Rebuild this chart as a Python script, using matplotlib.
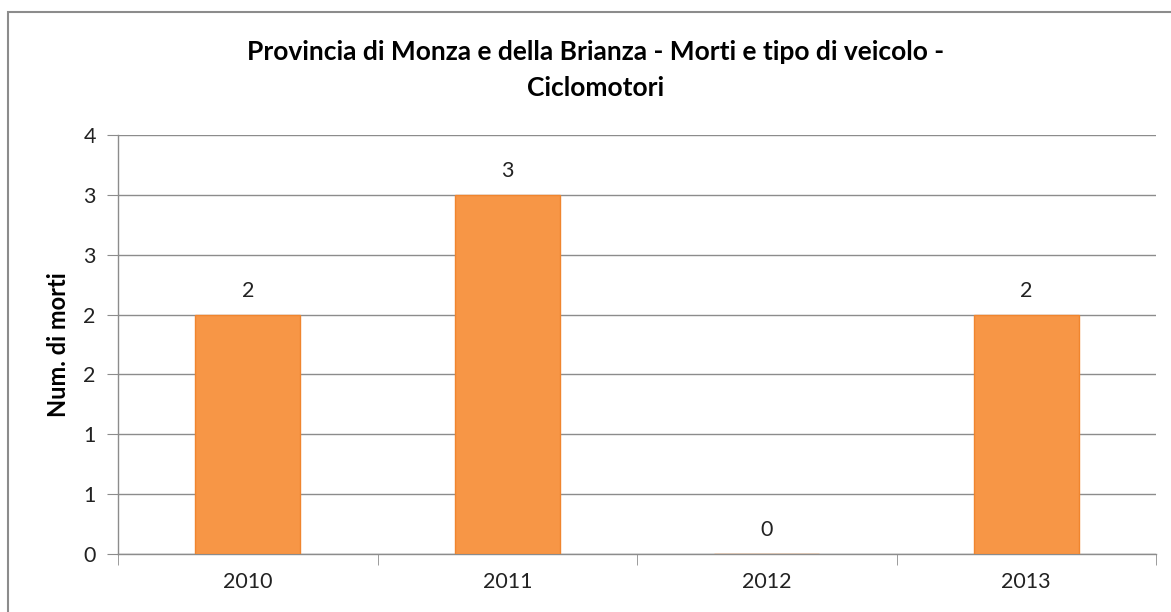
import matplotlib

matplotlib.use("Agg")
import matplotlib.pyplot as plt
from matplotlib.patches import Rectangle

years = ["2010", "2011", "2012", "2013"]
deaths = [2, 3, 0, 2]
ytick_vals = [0, 0.5, 1, 1.5, 2, 2.5, 3, 3.5]
ytick_labels = ["0", "1", "1", "2", "2", "3", "3", "4"]

plt.rcParams["font.family"] = ["Lato", "DejaVu Sans"]

fig = plt.figure(figsize=(11.71, 6.12), dpi=100)
ax = fig.add_axes([118 / 1171, 58 / 612, 1038 / 1171, 419 / 612])

# outer chart frame (runs off the right/bottom edge as in the screenshot)
fig.patches.append(Rectangle((8 / 1171, -0.1), 1.2, (612 - 12) / 612 + 0.1,
                             transform=fig.transFigure, fill=False,
                             edgecolor="#8c8c8c", linewidth=1.5))

x = list(range(len(years)))
ax.bar(x, deaths, width=0.405, color="#F79646", edgecolor="#F0852E",
       linewidth=1, zorder=3)
for xi, v in zip(x, deaths):
    ax.annotate(str(v), (xi, v), xytext=(0, 17), textcoords="offset points",
                ha="center", va="center", fontsize=15.5, color="#222222")

ax.set_xlim(-0.5, len(years) - 0.5)
ax.set_ylim(0, 3.5)
ax.set_yticks(ytick_vals)
ax.set_yticklabels(ytick_labels)
ax.set_xticks(x)
ax.set_xticklabels(years)
ax.set_xticks([i - 0.5 for i in range(len(years) + 1)], minor=True)

ax.grid(axis="y", color="#8c8c8c", linewidth=1, zorder=0)
ax.set_axisbelow(True)
for side in ["top", "right"]:
    ax.spines[side].set_visible(False)
for side in ["left", "bottom"]:
    ax.spines[side].set_color("#8c8c8c")
    ax.spines[side].set_linewidth(1)

ax.tick_params(axis="y", length=8, color="#8c8c8c", labelsize=15.5,
               labelcolor="#222222", pad=8)
ax.tick_params(axis="x", which="major", length=0, labelsize=15.5,
               labelcolor="#222222", pad=13)
ax.tick_params(axis="x", which="minor", length=8, color="#8c8c8c")

ax.set_ylabel("Num. di morti", fontsize=17, fontweight="bold")
ax.yaxis.set_label_coords((70 - 118) / 1038, 0.5)

fig.text(596 / 1171, 1 - 52 / 612,
         "Provincia di Monza e della Brianza - Morti e tipo di veicolo -",
         ha="center", va="center", fontsize=19, fontweight="bold")
fig.text(596 / 1171, 1 - 88 / 612, "Ciclomotori",
         ha="center", va="center", fontsize=19, fontweight="bold")

fig.savefig("out.png", dpi=100)
